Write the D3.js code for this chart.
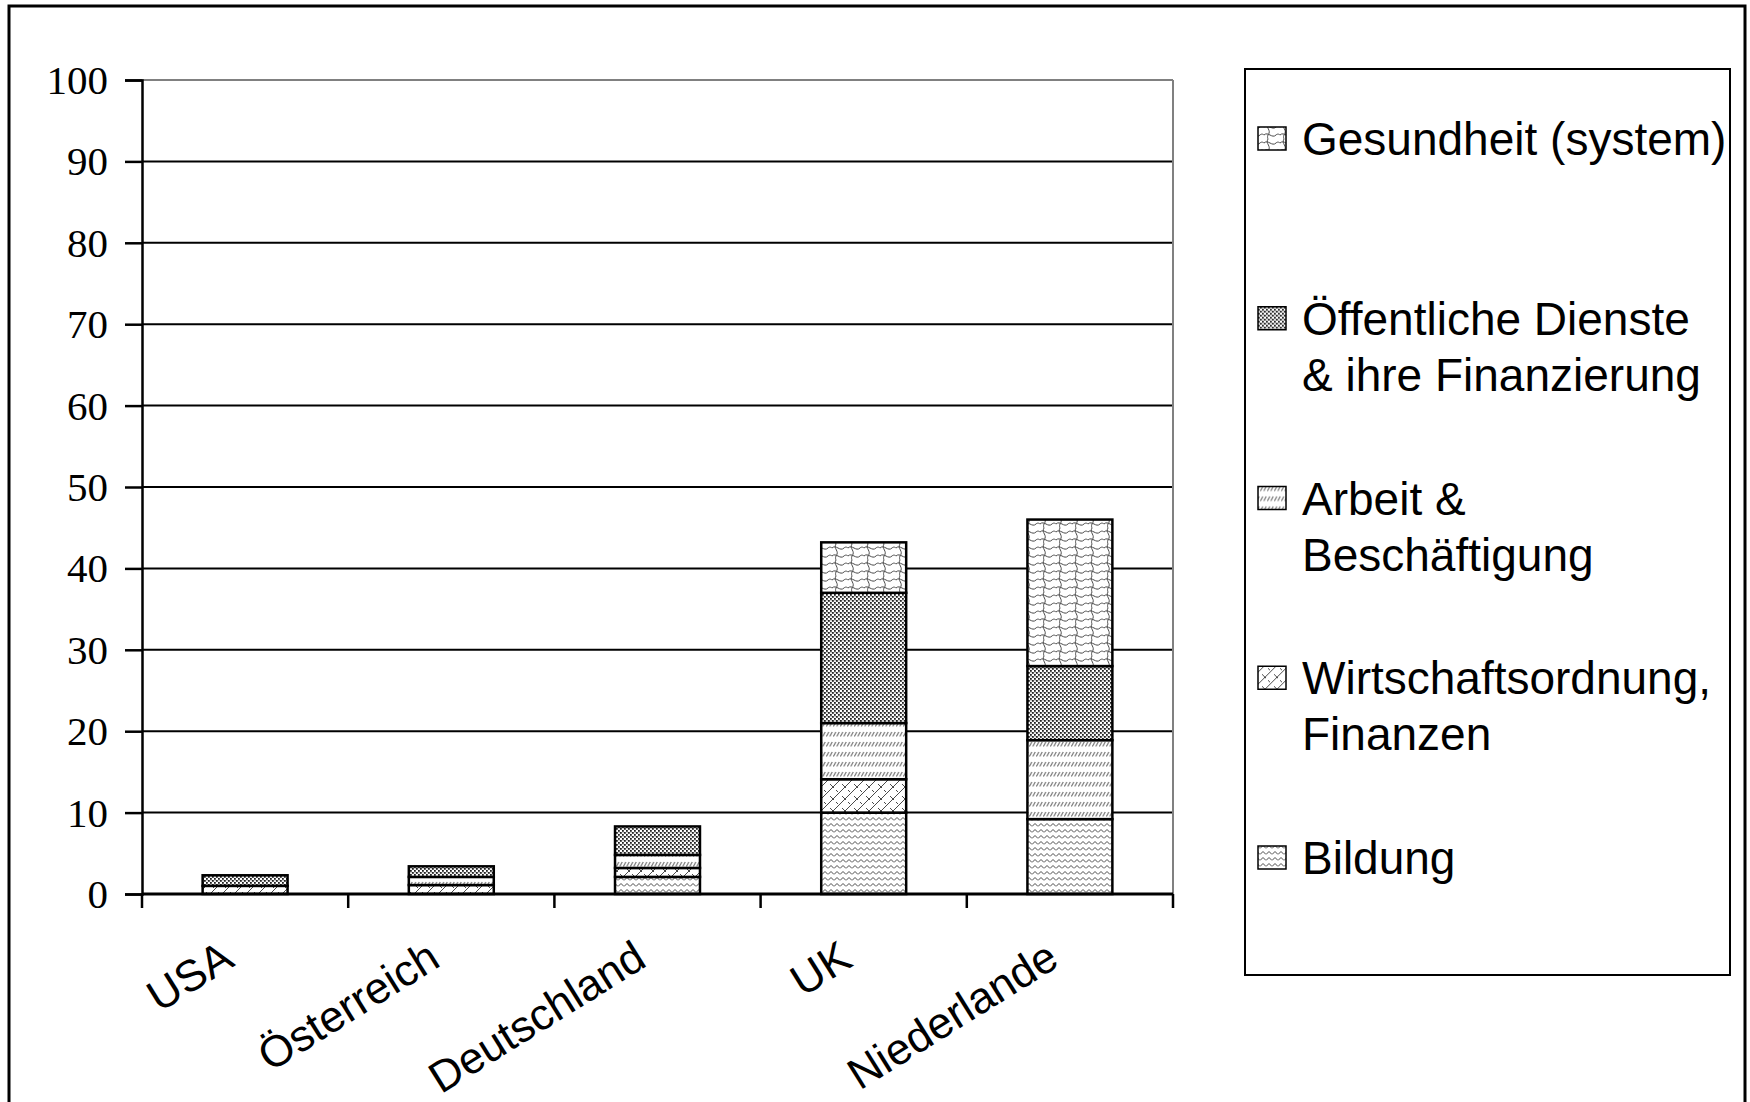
<!DOCTYPE html>
<html>
<head>
<meta charset="utf-8">
<script src="https://cdn.jsdelivr.net/npm/d3@7"></script>
<style>
  html, body { margin: 0; padding: 0; background: #fff; }
  svg { display: block; }
</style>
</head>
<body>
<svg id="chart" width="1750" height="1102"></svg>
<script>
// ---------------- data ----------------
const categories = ["USA", "Österreich", "Deutschland", "UK", "Niederlande"];
const seriesKeys = ["Bildung", "Wirtschaft", "Arbeit", "Oeffentlich", "Gesundheit"];
const bildung     = [0,   0,   2.1, 10,  9.2];
const wirtschaft  = [1.0, 1.1, 1.1, 4.1, 0];
const arbeit      = [0,   1.0, 1.6, 6.9, 9.7];
const oeffentlich = [1.3, 1.3, 3.5, 16,  9.1];
const gesundheit  = [0,   0,   0,   6.2, 18];
const yTickValues = [0, 10, 20, 30, 40, 50, 60, 70, 80, 90, 100];
const legendKeys  = ["Gesundheit", "Oeffentlich", "Arbeit", "Wirtschaft", "Bildung"];
const legendLines = [
  ["Gesundheit (system)"],
  ["Öffentliche Dienste", "& ihre Finanzierung"],
  ["Arbeit &", "Beschäftigung"],
  ["Wirtschaftsordnung,", "Finanzen"],
  ["Bildung"]
];

const table = categories.map((c, i) => ({
  cat: c,
  Bildung: bildung[i], Wirtschaft: wirtschaft[i], Arbeit: arbeit[i],
  Oeffentlich: oeffentlich[i], Gesundheit: gesundheit[i]
}));

// ---------------- layout ----------------
const svg = d3.select("#chart");
const X0 = 142, X1 = 1173, Y0 = 894, Y1 = 80;

const x = d3.scaleBand().domain(categories).range([X0, X1])
  .paddingInner(0.588).paddingOuter(0.294);
const xb = d3.scaleBand().domain(categories).range([X0, X1]).padding(0);
const y = d3.scaleLinear().domain([0, 100]).range([Y0, Y1]);

// ---------------- patterns ----------------
const defs = svg.append("defs");
const pc = "#4a4a4a";
function pat(id, w, h, draw) {
  const p = defs.append("pattern").attr("id", id)
    .attr("patternUnits", "userSpaceOnUse").attr("width", w).attr("height", h);
  p.append("rect").attr("width", w).attr("height", h).attr("fill", "#fff");
  draw(p);
}
pat("p-Bildung", 6, 6, p => p.append("path")
  .attr("d", "M0,4.5 L3,1.5 L6,4.5").attr("fill", "none")
  .attr("stroke", pc).attr("stroke-width", 1));
pat("p-Wirtschaft", 12, 12, p => {
  p.append("path").attr("d", "M0,12 L12,0 M-6,6 L6,-6 M6,18 L18,6")
    .attr("stroke", pc).attr("stroke-width", 1).attr("fill", "none");
  p.append("path").attr("d", "M2,4 L6,8 M8,10 L11,13 M-4,-2 L0,2")
    .attr("stroke", pc).attr("stroke-width", 1).attr("fill", "none");
});
pat("p-Arbeit", 3.5, 10, p => p.append("path")
  .attr("d", "M0.3,6.5 L2.8,2").attr("stroke", "#666").attr("stroke-width", 1.1));
pat("p-Oeffentlich", 4, 4, p => {
  p.append("rect").attr("x", 0).attr("y", 0).attr("width", 1.8).attr("height", 1.8).attr("fill", "#222");
  p.append("rect").attr("x", 2).attr("y", 2).attr("width", 1.8).attr("height", 1.8).attr("fill", "#222");
  p.append("rect").attr("x", 2.6).attr("y", 0.3).attr("width", 0.9).attr("height", 0.9).attr("fill", "#666");
});
pat("p-Gesundheit", 16, 16, p => {
  p.append("path")
    .attr("d", "M0,4 C4,0 8,8 12,4 C14,2 16,4 16,4 M0,12 C4,8 8,16 12,12 C14,10 16,12 16,12 M4,0 C1,5 8,7 4,12 C3,14 4,16 4,16")
    .attr("fill", "none").attr("stroke", pc).attr("stroke-width", 1);
});

// ---------------- outer frame ----------------
svg.append("rect").attr("x", 9).attr("y", 6).attr("width", 1736).attr("height", 1120)
  .attr("fill", "none").attr("stroke", "#000").attr("stroke-width", 3);

// ---------------- gridlines ----------------
svg.append("g").selectAll("line").data(yTickValues.filter(v => v > 0))
  .join("line")
  .attr("x1", X0).attr("x2", X1)
  .attr("y1", d => y(d)).attr("y2", d => y(d))
  .attr("stroke", d => d === 100 ? "#808080" : "#000")
  .attr("stroke-width", 2);
svg.append("line").attr("x1", X1).attr("x2", X1).attr("y1", y(100)).attr("y2", y(0))
  .attr("stroke", "#808080").attr("stroke-width", 2);

// ---------------- bars ----------------
const stack = d3.stack().keys(seriesKeys)(table);
svg.append("g").selectAll("g").data(stack).join("g")
  .attr("fill", d => `url(#p-${d.key})`)
  .selectAll("rect").data(d => d.filter(s => s[1] - s[0] > 0))
  .join("rect")
  .attr("x", d => x(d.data.cat))
  .attr("width", x.bandwidth())
  .attr("y", d => y(d[1]))
  .attr("height", d => y(d[0]) - y(d[1]))
  .attr("stroke", "#000").attr("stroke-width", 2.5);

// ---------------- y axis ----------------
const yAxis = svg.append("g").attr("transform", `translate(${X0},0)`)
  .call(d3.axisLeft(y).tickValues(yTickValues).tickSize(17).tickPadding(17));
yAxis.select(".domain").attr("stroke", "#000").attr("stroke-width", 2.5);
yAxis.selectAll(".tick line").attr("stroke", "#000").attr("stroke-width", 2.5);
yAxis.selectAll(".tick text")
  .attr("font-family", "'Liberation Serif', 'Times New Roman', serif")
  .attr("font-size", 41).attr("fill", "#000").attr("dy", "0.33em");

// ---------------- x axis ----------------
const xa = svg.append("g");
xa.append("line").attr("x1", X0).attr("x2", X1).attr("y1", Y0).attr("y2", Y0)
  .attr("stroke", "#000").attr("stroke-width", 3);
const tickXs = categories.map(c => xb(c)).concat([xb(categories[categories.length - 1]) + xb.bandwidth()]);
xa.selectAll("line.t").data(tickXs).join("line").attr("class", "t")
  .attr("x1", d => d).attr("x2", d => d).attr("y1", Y0).attr("y2", Y0 + 14)
  .attr("stroke", "#000").attr("stroke-width", 2.5);
xa.selectAll("text").data(categories).join("text")
  .attr("transform", d => `translate(${xb(d) + xb.bandwidth() / 2 - 9},${965}) rotate(-32)`)
  .attr("text-anchor", "end")
  .attr("font-family", "'Liberation Sans', Arial, sans-serif")
  .attr("font-size", 44).attr("fill", "#000")
  .text(d => d);

// ---------------- legend ----------------
svg.append("rect").attr("x", 1245).attr("y", 69).attr("width", 485).attr("height", 906)
  .attr("fill", "#fff").attr("stroke", "#000").attr("stroke-width", 2);
const ly = d3.scalePoint().domain(legendKeys).range([155, 874]);
const lg = svg.append("g").selectAll("g").data(legendKeys).join("g")
  .attr("transform", d => `translate(0,${ly(d)})`);
lg.append("rect").attr("x", 1258).attr("y", -28).attr("width", 28).attr("height", 23)
  .attr("fill", d => `url(#p-${d})`).attr("stroke", "#000").attr("stroke-width", 1.5);
lg.append("text")
  .attr("font-family", "'Liberation Sans', Arial, sans-serif")
  .attr("font-size", 46).attr("fill", "#000")
  .selectAll("tspan").data((d, i) => legendLines[legendKeys.indexOf(d)])
  .join("tspan").attr("x", 1302).attr("y", (t, j) => j * 56).text(t => t);
</script>
</body>
</html>
